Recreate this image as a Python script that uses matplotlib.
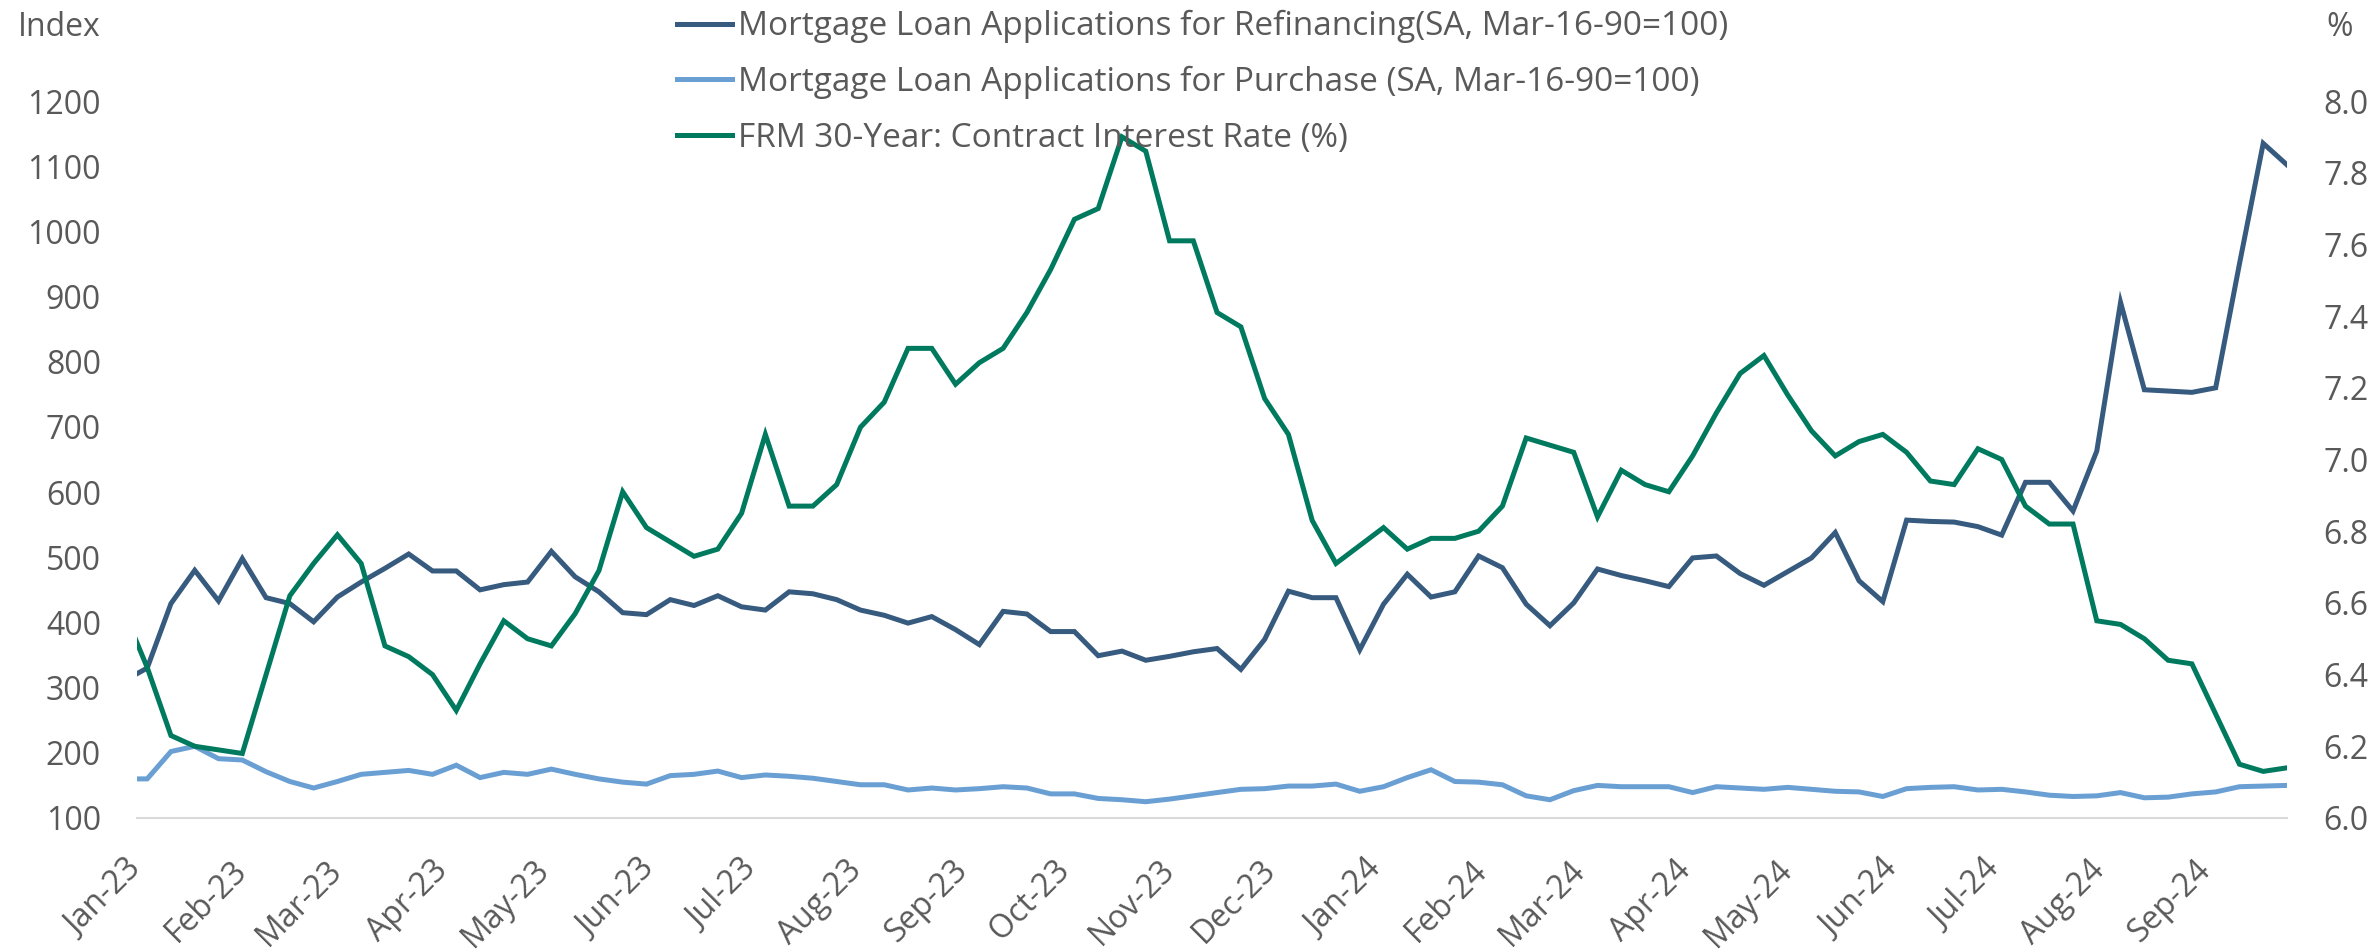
import matplotlib
matplotlib.use('Agg')
import matplotlib.pyplot as plt
import matplotlib.dates as mdates
import pandas as pd

plt.rcParams['font.family'] = ['Open Sans', 'DejaVu Sans']

# weekly survey dates; the first one sits just left of the axis start and gets clipped
dates = pd.date_range('2022-12-28', periods=92, freq='7D')

refi = [310, 330, 429, 480, 433, 498, 438, 429, 401, 439,
        462, 483, 505, 479, 479, 450, 458, 462, 509, 470,
        447, 415, 412, 435, 426, 441, 424, 419, 447, 444,
        435, 419, 411, 399, 409, 389, 366, 417, 413, 386,
        386, 349, 356, 342, 348, 355, 360, 328, 374, 448,
        438, 438, 358, 428, 474, 439, 447, 502, 484, 428,
        395, 430, 482, 472, 464, 455, 499, 502, 475, 457,
        478, 499, 538, 464, 432, 557, 555, 554, 547, 534,
        615, 615, 571, 663, 891, 757, 755, 753, 760, 950,
        1135, 1102]

purchase = [160, 160, 202, 210, 191, 189, 171, 156, 146, 156,
            167, 170, 173, 167, 181, 162, 170, 167, 175, 167,
            160, 155, 152, 165, 167, 172, 162, 166, 164, 161,
            156, 151, 151, 143, 146, 143, 145, 148, 146, 137,
            137, 130, 128, 125, 129, 134, 139, 144, 145, 149,
            149, 152, 141, 148, 162, 174, 156, 155, 151, 134,
            128, 142, 150, 148, 148, 148, 139, 148, 146, 144,
            147, 144, 141, 140, 133, 145, 147, 148, 143, 144,
            140, 135, 133, 134, 139, 131, 132, 137, 140, 148,
            149, 150]

rate = [6.58, 6.42, 6.23, 6.20, 6.19, 6.18, 6.40, 6.62, 6.71, 6.79,
        6.71, 6.48, 6.45, 6.40, 6.30, 6.43, 6.55, 6.50, 6.48, 6.57,
        6.69, 6.91, 6.81, 6.77, 6.73, 6.75, 6.85, 7.07, 6.87, 6.87,
        6.93, 7.09, 7.16, 7.31, 7.31, 7.21, 7.27, 7.31, 7.41, 7.53,
        7.67, 7.70, 7.90, 7.86, 7.61, 7.61, 7.41, 7.37, 7.17, 7.07,
        6.83, 6.71, 6.76, 6.81, 6.75, 6.78, 6.78, 6.80, 6.87, 7.06,
        7.04, 7.02, 6.84, 6.97, 6.93, 6.91, 7.01, 7.13, 7.24, 7.29,
        7.18, 7.08, 7.01, 7.05, 7.07, 7.02, 6.94, 6.93, 7.03, 7.00,
        6.87, 6.82, 6.82, 6.55, 6.54, 6.50, 6.44, 6.43, 6.29, 6.15,
        6.13, 6.14]

labels = ['Mortgage Loan Applications for Refinancing(SA, Mar-16-90=100)',
          'Mortgage Loan Applications for Purchase (SA, Mar-16-90=100)',
          'FRM 30-Year: Contract Interest Rate (%)']
colors = ['#375a7f', '#6a9fd4', '#007a5e']

text_col = '#595959'
fs = 23

fig = plt.figure(figsize=(23.74, 9.5), dpi=100)
ax = fig.add_axes([137 / 2374, 1 - 818 / 950, (2287 - 137) / 2374, (818 - 101) / 950])
ax2 = ax.twinx()

l1, = ax.plot(dates, refi, color=colors[0], lw=3.6, solid_joinstyle='miter')
l2, = ax.plot(dates, purchase, color=colors[1], lw=3.6, solid_joinstyle='miter')
l3, = ax2.plot(dates, rate, color=colors[2], lw=3.6, solid_joinstyle='miter')

ax.set_xlim(pd.Timestamp('2023-01-01'), dates[-1])
ax.set_ylim(100, 1200)
ax.set_yticks(range(100, 1201, 100))
ax2.set_ylim(6.0, 8.0)
ax2.set_yticks([6.0 + 0.2 * i for i in range(11)])
ax2.yaxis.set_major_formatter(matplotlib.ticker.FormatStrFormatter('%.1f'))

ax.xaxis.set_major_locator(mdates.MonthLocator())
ax.xaxis.set_major_formatter(mdates.DateFormatter('%b-%y'))

for a in (ax, ax2):
    for s in a.spines.values():
        s.set_visible(False)
ax.spines['bottom'].set_visible(True)
ax.spines['bottom'].set_color('#d9d9d9')
ax.spines['bottom'].set_linewidth(1.5)

ax.tick_params(axis='y', length=0, pad=26, labelsize=fs, labelcolor=text_col)
ax2.tick_params(axis='y', length=0, pad=26, labelsize=fs, labelcolor=text_col)
ax.tick_params(axis='x', length=0, pad=34, labelsize=fs, labelcolor=text_col)
for lab in ax.get_xticklabels():
    lab.set_rotation(45)
    lab.set_ha('right')
    lab.set_va('center')
    lab.set_rotation_mode('anchor')

fig.text(18 / 2374, 1 - 27 / 950, 'Index', fontsize=fs, color=text_col, ha='left', va='center')
fig.text(2326 / 2374, 1 - 28 / 950, '%', fontsize=fs, color=text_col, ha='left', va='center')

fig.legend([l1, l2, l3], labels, loc='upper left', bbox_to_anchor=(677 / 2374, 1 - 10 / 950),
           frameon=False, fontsize=24, labelcolor=text_col, handlelength=1.65,
           handletextpad=0.17, labelspacing=0.68, borderpad=0, borderaxespad=0)

fig.savefig('out.png', dpi=100)
